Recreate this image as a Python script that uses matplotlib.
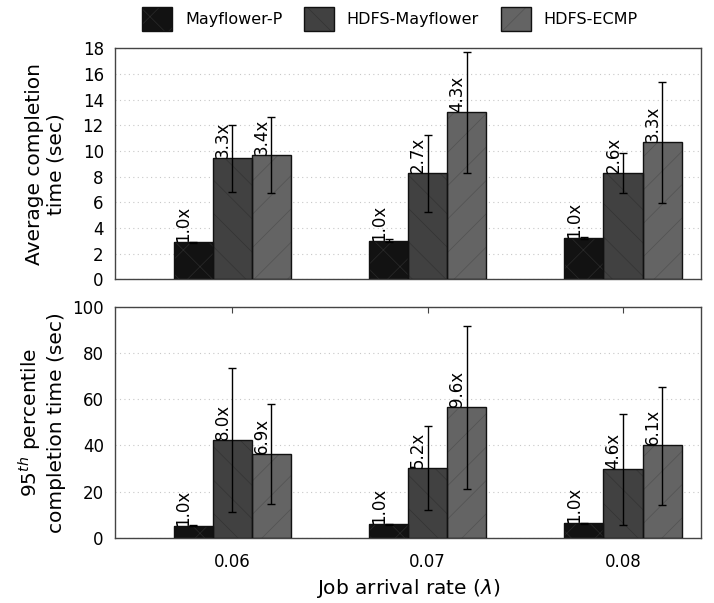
import numpy as np
import matplotlib
matplotlib.use("Agg")
import matplotlib.pyplot as plt
from matplotlib.patches import Patch

plt.rcParams['font.family'] = ['DejaVu Sans']
plt.rcParams['hatch.linewidth'] = 0.5
plt.rcParams['mathtext.fontset'] = 'dejavusans'

rates = ["0.06", "0.07", "0.08"]
series = ["Mayflower-P", "HDFS-Mayflower", "HDFS-ECMP"]
colors = ["#121212", "#414141", "#646464"]
hatches = ["x", "\\", "/"]
hatch_colors = ["#2a2a2a", "#333333", "#525252"]

# Average completion time (sec): values, lower/upper error bounds
avg_vals = [[2.87, 3.00, 3.21],
            [9.47, 8.27, 8.27],
            [9.68, 13.04, 10.67]]
avg_low = [[2.82, 2.92, 3.17],
           [6.78, 5.22, 6.70],
           [6.70, 8.27, 5.95]]
avg_high = [[2.92, 3.12, 3.25],
            [12.05, 11.20, 9.83],
            [12.65, 17.74, 15.39]]
avg_labels = [["1.0x", "1.0x", "1.0x"],
              ["3.3x", "2.7x", "2.6x"],
              ["3.4x", "4.3x", "3.3x"]]

# 95th percentile completion time (sec)
p95_vals = [[5.2, 5.9, 6.3],
            [42.3, 30.3, 29.7],
            [36.4, 56.5, 40.0]]
p95_low = [[5.0, 5.6, 6.0],
           [11.1, 12.1, 5.6],
           [14.7, 21.2, 14.3]]
p95_high = [[5.4, 6.2, 6.6],
            [73.4, 48.6, 53.7],
            [57.8, 91.8, 65.4]]
p95_labels = [["1.0x", "1.0x", "1.0x"],
              ["8.0x", "5.2x", "4.6x"],
              ["6.9x", "9.6x", "6.1x"]]

fig = plt.figure(figsize=(7.14, 6.03), dpi=100)
ax1 = fig.add_axes([0.161, 0.537, 0.821, 0.383])
ax2 = fig.add_axes([0.161, 0.108, 0.821, 0.383])

x = np.arange(len(rates))
width = 0.2


def draw(ax, vals, low, high, labels):
    for i in range(len(series)):
        v = np.array(vals[i])
        lo = np.array(low[i])
        hi = np.array(high[i])
        xpos = x + (i - 1) * width
        ax.bar(xpos, v, width, color=colors[i], edgecolor=hatch_colors[i],
               hatch=hatches[i], linewidth=0, zorder=2)
        ax.bar(xpos, v, width, fill=False, edgecolor="#111111", linewidth=1.0,
               zorder=3, yerr=[v - lo, hi - v],
               error_kw=dict(ecolor="black", elinewidth=1.0, capsize=3,
                             capthick=1.0, zorder=4))
        for xp, val, lab in zip(xpos, v, labels[i]):
            ax.text(xp - width / 2 + 0.005, val, lab, rotation=90,
                    ha="left", va="bottom", fontsize=12, zorder=5)
    ax.set_xlim(-0.6, 2.4)
    ax.yaxis.grid(True, linestyle=(0, (1, 3)), color="#c8c8c8",
                  linewidth=0.8, zorder=0)
    ax.set_axisbelow(True)
    for sp in ax.spines.values():
        sp.set_color("#444444")
        sp.set_linewidth(1.0)
    ax.tick_params(axis="y", length=0, pad=8, labelsize=12)


draw(ax1, avg_vals, avg_low, avg_high, avg_labels)
draw(ax2, p95_vals, p95_low, p95_high, p95_labels)

ax1.set_ylim(0, 18)
ax1.set_yticks(np.arange(0, 19, 2))
ax1.set_xticks(x)
ax1.tick_params(axis="x", length=0, labelbottom=False)

ax2.set_ylim(0, 100)
ax2.set_yticks(np.arange(0, 101, 20))
ax2.set_xticks(x)
ax2.set_xticklabels(rates)
ax2.tick_params(axis="x", direction="in", top=True, bottom=True, length=4,
                pad=11, labelsize=12, color="#444444")

ax1.set_ylabel("Average completion\ntime (sec)", fontsize=14.5,
               multialignment="center")
ax2.set_ylabel("95$^{th}$ percentile\ncompletion time (sec)", fontsize=14.5,
               multialignment="center")
ax1.yaxis.set_label_coords(-0.084, 0.5)
ax2.yaxis.set_label_coords(-0.084, 0.5)
ax2.set_xlabel("Job arrival rate ($\\lambda$)", fontsize=14.5, labelpad=4)

handles = [Patch(facecolor=colors[i], edgecolor="#111111", hatch=hatches[i],
                 linewidth=1.0) for i in range(len(series))]
for h, hc in zip(handles, hatch_colors):
    h._hatch_color = matplotlib.colors.to_rgba(hc)
fig.legend(handles, series, loc="center", bbox_to_anchor=(0.546, 0.968),
           ncol=3, frameon=False, fontsize=11.5, handlelength=1.9,
           handleheight=1.9, handletextpad=0.8, columnspacing=1.35)

fig.savefig("out.png", dpi=100)
